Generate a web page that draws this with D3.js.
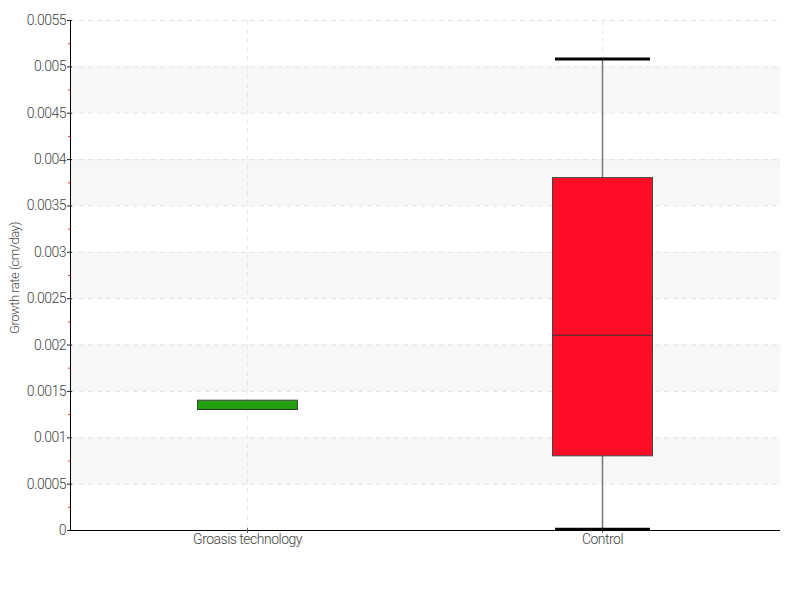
<!DOCTYPE html>
<html><head><meta charset="utf-8">
<script src="https://cdn.jsdelivr.net/npm/d3@7/dist/d3.min.js"></script>
<style>
body{margin:0;background:#fff;}
text{font-family:"Roboto","DejaVu Sans",sans-serif;font-weight:300;fill:#444;}
</style></head><body>
<svg id="c" width="800" height="600"></svg>
<script>
const categories = ["Groasis technology", "Control"];
const lowValues = [0.0013, 0.000008];
const q1Values = [0.0013, 0.0008];
const medianValues = [0.0013, 0.0021];
const q3Values = [0.0014, 0.0038];
const highValues = [0.0014, 0.00508];
const colors = ["#22a10f", "#ff0d26"];
const yTicks = [0,0.0005,0.001,0.0015,0.002,0.0025,0.003,0.0035,0.004,0.0045,0.005,0.0055];
const yLabel = "Growth rate (cm/day)";

const svg = d3.select("#c");
const L=70,R=780,T=20,B=530;
const x = d3.scaleBand().domain(categories).range([L,R]).padding(0);
const y = d3.scaleLinear().domain([0,0.0055]).range([B,T]);

for(let i=1;i<yTicks.length-1;i+=2){
  svg.append("rect").attr("x",L).attr("width",R-L)
    .attr("y",y(yTicks[i+1])).attr("height",y(yTicks[i])-y(yTicks[i+1]))
    .attr("fill","#f7f7f7");
}
svg.append("g").selectAll("line").data(yTicks.slice(1)).join("line")
  .attr("x1",L).attr("x2",R).attr("y1",d=>y(d)+0.5).attr("y2",d=>y(d)+0.5)
  .attr("stroke","#e4e4e4").attr("stroke-dasharray","5,4");
svg.append("g").selectAll("line").data(categories).join("line")
  .attr("x1",d=>x(d)+x.bandwidth()/2).attr("x2",d=>x(d)+x.bandwidth()/2)
  .attr("y1",T).attr("y2",B)
  .attr("stroke","#e8e8e8").attr("stroke-dasharray","5,4");

const minor = d3.range(0,yTicks.length-1).map(i=>(yTicks[i]+yTicks[i+1])/2);
svg.append("g").selectAll("line").data(minor).join("line")
  .attr("x1",L-2).attr("x2",L).attr("y1",d=>y(d)+0.5).attr("y2",d=>y(d)+0.5)
  .attr("stroke","#ff3030");

const yAxis = svg.append("g").attr("transform",`translate(${L},0)`)
  .call(d3.axisLeft(y).tickValues(yTicks).tickFormat(d=>d===0?"0":String(+d.toFixed(4))).tickSizeInner(3).tickSizeOuter(0).tickPadding(1));
yAxis.select(".domain").attr("stroke","#000");
yAxis.selectAll(".tick line").attr("stroke","#222").attr("x2",-3).attr("x1",2);
yAxis.selectAll("text").attr("font-size",14).attr("letter-spacing","-0.5").style("fill","#444");

const xAxis = svg.append("g").attr("transform",`translate(0,${B})`)
  .call(d3.axisBottom(x).tickSizeInner(3).tickSizeOuter(0).tickPadding(1));
xAxis.select(".domain").attr("stroke","#000").attr("d",`M${L},0.5H${R}`);
xAxis.selectAll(".tick line").attr("stroke","#666").attr("y1",-2).attr("y2",3);
xAxis.selectAll("text").attr("font-size",14).attr("letter-spacing","-0.5").style("fill","#444");

svg.append("text").attr("transform",`translate(19,${(T+B)/2+3}) rotate(-90)`)
  .attr("text-anchor","middle").attr("font-size",13).attr("letter-spacing","-0.5").text(yLabel);

const bw = 100, cw = 95;
categories.forEach((c,i)=>{
  const cx = x(c)+x.bandwidth()/2;
  const g = svg.append("g");
  g.append("line").attr("x1",cx).attr("x2",cx).attr("y1",y(highValues[i])).attr("y2",y(q3Values[i]))
    .attr("stroke","#777").attr("stroke-width",1.5);
  g.append("line").attr("x1",cx).attr("x2",cx).attr("y1",y(q1Values[i])).attr("y2",y(lowValues[i]))
    .attr("stroke","#777").attr("stroke-width",1.5);
  if(highValues[i]!==q3Values[i]){
    g.append("line").attr("x1",cx-cw/2).attr("x2",cx+cw/2).attr("y1",y(highValues[i])).attr("y2",y(highValues[i]))
      .attr("stroke","#000").attr("stroke-width",3);
  }
  if(lowValues[i]!==q1Values[i]){
    g.append("line").attr("x1",cx-cw/2).attr("x2",cx+cw/2).attr("y1",y(lowValues[i])).attr("y2",y(lowValues[i]))
      .attr("stroke","#000").attr("stroke-width",3);
  }
  g.append("rect").attr("x",cx-bw/2).attr("width",bw)
    .attr("y",y(q3Values[i])).attr("height",y(q1Values[i])-y(q3Values[i]))
    .attr("fill",colors[i]).attr("stroke","#444").attr("stroke-width",1);
  g.append("line").attr("x1",cx-bw/2).attr("x2",cx+bw/2).attr("y1",y(medianValues[i])).attr("y2",y(medianValues[i]))
    .attr("stroke","#333").attr("stroke-width",1);
});
</script></body></html>
